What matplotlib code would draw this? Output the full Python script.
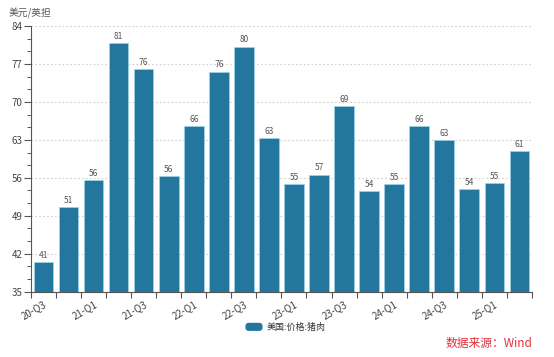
import matplotlib.pyplot as plt
import matplotlib.patches as mpatches
from matplotlib.legend_handler import HandlerPatch
from matplotlib.ticker import MultipleLocator

plt.rcParams['font.family'] = ['Noto Sans CJK SC', 'DejaVu Sans']

# ==========================================
# data
# ==========================================
quarters = ['20-Q3', '20-Q4', '21-Q1', '21-Q2', '21-Q3', '21-Q4',
            '22-Q1', '22-Q2', '22-Q3', '22-Q4', '23-Q1', '23-Q2',
            '23-Q3', '23-Q4', '24-Q1', '24-Q2', '24-Q3', '24-Q4',
            '25-Q1', '25-Q2']
pork_price = [40.5, 50.6, 55.6, 80.9, 76.1, 56.3, 65.5, 75.6, 80.2, 63.4,
              54.8, 56.6, 69.2, 53.6, 54.9, 65.5, 63.0, 53.9, 55.0, 60.9]
value_labels = ['41', '51', '56', '81', '76', '56', '66', '76', '80', '63',
                '55', '57', '69', '54', '55', '66', '63', '54', '55', '61']
y_ticks = [35, 42, 49, 56, 63, 70, 77, 84]

bar_color = '#23769e'
text_grey = '#555555'


class RoundHandler(HandlerPatch):
    def create_artists(self, legend, orig_handle, xdescent, ydescent,
                       width, height, fontsize, trans):
        p = mpatches.FancyBboxPatch((-xdescent, -ydescent), width, height,
                                    boxstyle='round,pad=0,rounding_size=2.5',
                                    facecolor=bar_color, edgecolor='none',
                                    transform=trans)
        return [p]


fig = plt.figure(figsize=(5.54, 3.57), dpi=100)
ax = fig.add_axes([0.056, 0.183, 0.904, 0.744])

x = list(range(len(quarters)))
bars = ax.bar(x, [v - y_ticks[0] for v in pork_price], bottom=y_ticks[0],
              width=0.78, color=bar_color, edgecolor='#9fd3e6', linewidth=0.5,
              zorder=3)

for xi, v, lab in zip(x, pork_price, value_labels):
    ax.text(xi, v + 0.4, lab, ha='center', va='bottom',
            fontsize=6, color=text_grey)

ax.set_xlim(-0.5, len(quarters) - 0.5)
ax.set_ylim(y_ticks[0], y_ticks[-1])
ax.set_yticks(y_ticks)
ax.yaxis.set_minor_locator(MultipleLocator(7 / 3))
ax.tick_params(axis='y', which='major', length=5, width=0.8, colors='#555555',
               labelsize=7, pad=1, labelcolor='#444444')
ax.tick_params(axis='y', which='minor', length=3, width=0.7, colors='#555555')

# category ticks at band boundaries, labels at every other band centre
ax.set_xticks([i - 0.5 for i in range(len(quarters) + 1)])
ax.set_xticklabels([])
ax.tick_params(axis='x', which='major', length=4, width=0.8, colors='#555555')
ax.set_xticks(x[::2], minor=True)
ax.set_xticklabels(quarters[::2], minor=True, rotation=30, ha='right',
                   rotation_mode='anchor', fontsize=7, color='#444444')
ax.tick_params(axis='x', which='minor', length=0, pad=5)

ax.grid(axis='y', which='major', linestyle=(0, (1.5, 2)), color='#d0d0d0',
        linewidth=0.8, zorder=0)

for side in ['top', 'right']:
    ax.spines[side].set_visible(False)
for side in ['left', 'bottom']:
    ax.spines[side].set_color('#555555')
    ax.spines[side].set_linewidth(0.8)

fig.text(0.016, 0.962, '美元/英担', fontsize=7, color=text_grey,
         ha='left', va='center')

handle = mpatches.Patch(color=bar_color)
fig.legend([handle], ['美国:价格:猪肉'], loc='center', bbox_to_anchor=(0.515, 0.083),
           frameon=False, fontsize=6.5, handlelength=1.9, handleheight=1.0,
           handletextpad=0.4, handler_map={mpatches.Patch: RoundHandler()},
           labelcolor='#333333')

fig.text(0.961, 0.037, '数据来源：Wind', fontsize=8.5, color='#e0313b',
         ha='right', va='center')

fig.savefig('out.png', dpi=100)
